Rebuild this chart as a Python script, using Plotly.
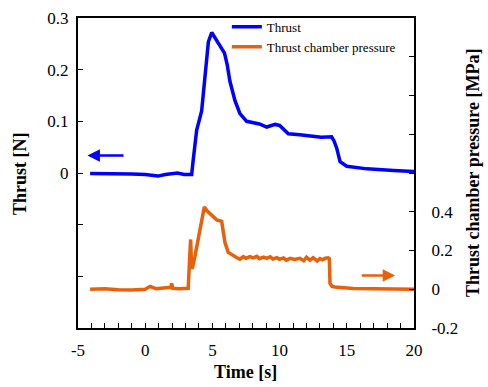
import plotly.graph_objects as go

# Thrust data
thrust_time = [-4.1, -3, -2, -1, 0, 0.5, 0.95, 1.5, 2.0, 2.4, 2.9, 3.2, 3.46, 3.55, 3.83, 4.2, 4.45,
               4.7, 4.95, 5.2, 5.57, 5.9, 6.1, 6.3, 6.68, 7.05, 7.55, 8.0, 8.5, 9.04, 9.66, 10.0,
               10.65, 11.5, 12.3, 13.1, 13.87, 14.05, 14.25, 14.5, 15.0, 16.5, 18.5, 20]
thrust_n = [-0.001, -0.001, -0.002, -0.002, -0.003, -0.004, -0.006, -0.003, -0.002, 0.000, -0.003,
            -0.003, -0.003, 0.02, 0.083, 0.12, 0.197, 0.254, 0.272, 0.262, 0.245, 0.232, 0.21,
            0.178, 0.14, 0.115, 0.100, 0.097, 0.095, 0.089, 0.094, 0.092, 0.076, 0.074, 0.072,
            0.069, 0.070, 0.062, 0.048, 0.022, 0.013, 0.008, 0.005, 0.003]

# Thrust chamber pressure data
press_time = [-4.1, -3, -2, -1, 0, 0.36, 0.8, 1.5, 1.9, 1.97, 2.05, 2.5, 3.0, 3.2, 3.3, 3.38, 3.45,
              3.5, 3.7, 4.08, 4.4, 4.6, 4.82, 5.32, 5.69, 5.94, 6.18, 6.5, 6.8, 7.05, 7.3, 7.5,
              7.8, 8.04, 8.3, 8.5, 8.8, 9.04, 9.3, 9.5, 9.8, 10.0, 10.28, 10.5, 10.8, 11.1, 11.5,
              11.8, 12.0, 12.26, 12.5, 12.8, 13.0, 13.2, 13.4, 13.62, 13.7, 13.75, 13.9, 14.12,
              15.0, 15.48, 17, 18.5, 20]
press_mpa = [0, 0.002, -0.003, -0.004, 0.0, 0.015, 0.003, 0.005, 0.01, 0.03, 0.005, 0.003, 0.002,
             0.005, 0.15, 0.257, 0.12, 0.105, 0.17, 0.307, 0.425, 0.405, 0.39, 0.358, 0.35, 0.24,
             0.19, 0.175, 0.164, 0.155, 0.168, 0.160, 0.168, 0.162, 0.170, 0.158, 0.166, 0.160,
             0.168, 0.156, 0.163, 0.155, 0.162, 0.150, 0.160, 0.154, 0.160, 0.147, 0.165, 0.150,
             0.163, 0.146, 0.158, 0.152, 0.160, 0.162, 0.158, 0.03, 0.015, 0.012, 0.006, 0.004,
             0.002, 0.0, 0.0]

x_tickvals = [-5, 0, 5, 10, 15, 20]
x_ticktext = ["-5", "0", "5", "10", "15", "20"]
left_tickvals = [-0.3, -0.2, -0.1, 0, 0.1, 0.2, 0.3]
left_ticktext = ["", "", "", "0", "0.1", "0.2", "0.3"]
right_tickvals = [-0.2, 0, 0.2, 0.4, 0.6, 0.8, 1.0, 1.2, 1.4]
right_ticktext = ["-0.2", "0", "0.2", "0.4", "", "", "", "", ""]

BLUE = "#0000FF"
ORANGE = "#E8600A"
FONT = "Liberation Serif"

fig = go.Figure()
fig.add_trace(go.Scatter(x=thrust_time, y=thrust_n, mode="lines", name="Thrust",
                         line=dict(color=BLUE, width=3.5), yaxis="y"))
fig.add_trace(go.Scatter(x=press_time, y=press_mpa, mode="lines", name="Thrust chamber pressure",
                         line=dict(color=ORANGE, width=3.5), yaxis="y2"))

axis_common = dict(showline=True, linecolor="black", linewidth=2, ticks="inside",
                   tickcolor="black", tickwidth=1, ticklen=5, showgrid=False, zeroline=False,
                   automargin=False,
                   tickfont=dict(family=FONT, size=17, color="black"))

fig.update_layout(
    width=488, height=387,
    margin=dict(l=78, r=74, t=12, b=59),
    paper_bgcolor="white", plot_bgcolor="white",
    font=dict(family=FONT, color="black"),
    showlegend=True,
    legend=dict(x=0.443, y=1.02, xanchor="left", yanchor="top", bgcolor="rgba(0,0,0,0)",
                font=dict(family=FONT, size=13, color="black"), itemwidth=30,
                tracegroupgap=0),
    xaxis=dict(range=[-5, 20], tickvals=x_tickvals, ticktext=x_ticktext, mirror=True,
               ticklabelstandoff=6,
               minor=dict(tickmode="linear", tick0=-5, dtick=1, ticks="inside", ticklen=5,
                          tickcolor="black", tickwidth=1),
               **axis_common),
    yaxis=dict(range=[-0.3, 0.3], tickvals=left_tickvals, ticktext=left_ticktext,
               ticklabelstandoff=4, **axis_common),
    yaxis2=dict(range=[-0.2, 1.4], tickvals=right_tickvals, ticktext=right_ticktext,
                overlaying="y", side="right", ticklabelstandoff=12,
                **axis_common),
)

# axis titles (positions given in pixels, converted to paper coordinates)
titles = [
    ("<b>Time [s]</b>", 245, 373, 0),
    ("<b>Thrust [N]</b>", 20, 171, -90),
    ("<b>Thrust chamber pressure [MPa]</b>", 473, 170, -90),
]
for txt, px, py, ang in titles:
    fig.add_annotation(text=txt, x=(px - 78) / 336, y=(328 - py) / 316, xref="paper", yref="paper",
                       xanchor="center", yanchor="middle", textangle=ang, showarrow=False,
                       font=dict(family=FONT, size=18, color="black"))

# direction arrows
fig.add_annotation(x=-4.3, y=0.034, ax=-1.5, ay=0.034, xref="x", yref="y", axref="x", ayref="y",
                   text="", showarrow=True, arrowhead=2, arrowsize=1, arrowwidth=2.5, arrowcolor=BLUE)
fig.add_annotation(x=18.6, y=0.071, ax=16.0, ay=0.071, xref="x", yref="y2", axref="x", ayref="y2",
                   text="", showarrow=True, arrowhead=2, arrowsize=1, arrowwidth=2.5, arrowcolor=ORANGE)

fig.write_html("out.html", config={"displayModeBar": False},
               post_script="document.body.style.margin='0';")
